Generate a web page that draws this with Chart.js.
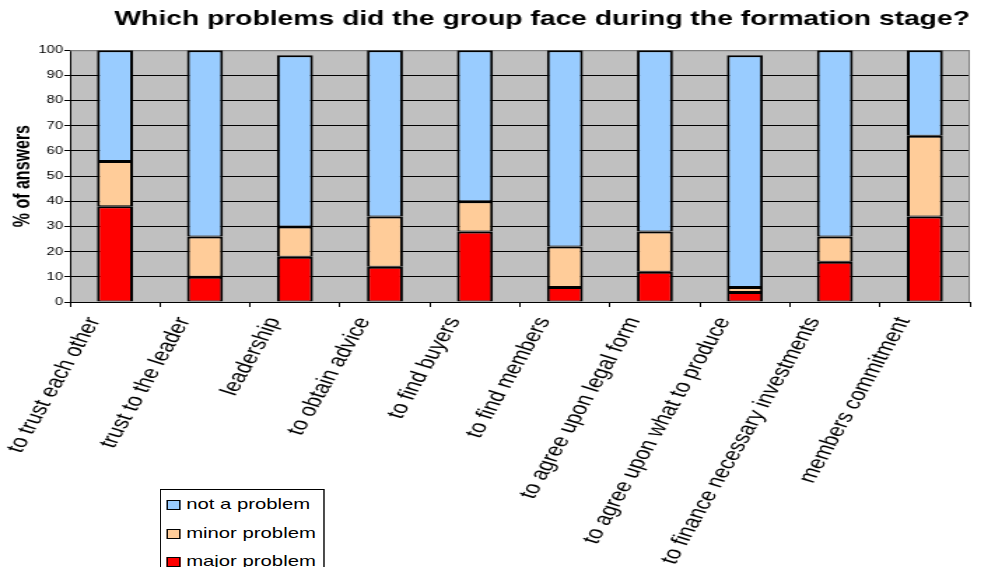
<!DOCTYPE html>
<html>
<head>
<meta charset="utf-8">
<title>Which problems did the group face during the formation stage?</title>
<script src="https://cdn.jsdelivr.net/npm/chart.js@4.4.1/dist/chart.umd.min.js"></script>
<style>
  html, body { margin: 0; padding: 0; background: #fff; overflow: hidden; }
  /* the original picture is stretched sideways, so the chart is drawn narrower and scaled */
  #wrap {
    position: relative;
    width: 701px;
    height: 567px;
    transform: scaleX(1.3995);
    transform-origin: 0 0;
  }
  #legend {
    position: absolute;
    left: 114px;
    top: 489px;
    width: 116px;
    border: 1px solid #000;
    background: #fff;
    font-family: "Liberation Sans", Arial, sans-serif;
    font-size: 14.5px;
    color: #000;
  }
  #legend div { height: 28.5px; line-height: 28.5px; white-space: nowrap; padding-left: 4px; }
  #legend span.box {
    display: inline-block;
    width: 8px; height: 8px;
    border: 1.5px solid #000;
    margin-right: 4px;
    vertical-align: -1px;
  }
</style>
</head>
<body>
<div id="wrap">
  <canvas id="chart"></canvas>
  <div id="legend"></div>
</div>
<script>
// Data (% of answers)
const categories = [
  'to trust each other',
  'trust to the leader',
  'leadership',
  'to obtain advice',
  'to find buyers',
  'to find members',
  'to agree upon legal form',
  'to agree upon what to produce',
  'to finance necessary investments',
  'members commitment'
];
const majorProblem = [38, 10, 18, 14, 28, 6, 12, 4, 16, 34];
const minorProblem = [18, 16, 12, 20, 12, 16, 16, 2, 10, 32];
const notAProblem  = [44, 74, 68, 66, 60, 78, 72, 92, 74, 34];
const yTicks = [0, 10, 20, 30, 40, 50, 60, 70, 80, 90, 100];

const FONT = '"Liberation Sans", Arial, sans-serif';

// grey plot background + grey top/right frame like the Excel original
const plotArea = {
  id: 'plotArea',
  beforeDraw(chart) {
    const {ctx, chartArea: a} = chart;
    ctx.save();
    ctx.fillStyle = '#C0C0C0';
    ctx.fillRect(a.left, a.top, a.right - a.left, a.bottom - a.top);
    ctx.restore();
  },
  beforeDatasetsDraw(chart) {
    const {ctx, chartArea: a} = chart;
    ctx.save();
    ctx.strokeStyle = '#808080';
    ctx.lineWidth = 1;
    ctx.beginPath();
    ctx.moveTo(a.left, a.top + 0.5);
    ctx.lineTo(a.right - 0.5, a.top + 0.5);
    ctx.lineTo(a.right - 0.5, a.bottom);
    ctx.stroke();
    ctx.restore();
  }
};

const barBorder = {top: 2, right: 2, bottom: 1, left: 2};

const ctx = document.getElementById('chart');
const chart = new Chart(ctx, {
  type: 'bar',
  data: {
    labels: categories,
    datasets: [{
      label: 'major problem',
      data: majorProblem,
      backgroundColor: '#FF0000'
    }, {
      label: 'minor problem',
      data: minorProblem,
      backgroundColor: '#FFCC99'
    }, {
      label: 'not a problem',
      data: notAProblem,
      backgroundColor: '#99CCFF'
    }]
  },
  options: {
    responsive: true,
    maintainAspectRatio: false,
    animation: false,
    datasets: {
      bar: {
        borderColor: '#000',
        borderWidth: barBorder,
        borderSkipped: false,
        categoryPercentage: 0.4,
        barPercentage: 1
      }
    },
    layout: { padding: { left: 0, right: 8, top: 0, bottom: 0 } },
    plugins: {
      legend: { display: false },
      tooltip: { enabled: false },
      title: {
        display: true,
        text: 'Which problems did the group face during the formation stage?',
        align: 'end',
        color: '#000',
        font: { family: FONT, size: 20.2, weight: 'bold' },
        padding: { top: 7, bottom: 19 }
      }
    },
    scales: {
      x: {
        stacked: true,
        afterFit(scale) { scale.height = 265; },
        border: { color: '#000', width: 1 },
        grid: {
          offset: true,
          drawOnChartArea: false,
          drawTicks: true,
          tickLength: 5,
          tickColor: '#000'
        },
        ticks: {
          autoSkip: false,
          minRotation: 67,
          maxRotation: 67,
          padding: 7,
          labelOffset: -15,
          color: '#000',
          font: { family: FONT, size: 18 }
        }
      },
      y: {
        stacked: true,
        min: 0,
        max: 100,
        afterFit(scale) { scale.width = 50; },
        afterBuildTicks(scale) { scale.ticks = yTicks.map(v => ({ value: v })); },
        border: { color: '#000', width: 1 },
        grid: {
          color: c => (c.tick && c.tick.value === 100) ? '#808080' : '#000',
          lineWidth: 1,
          tickLength: 4,
          tickColor: '#000'
        },
        ticks: {
          padding: 1,
          color: '#000',
          font: { family: FONT, size: 10.5 }
        },
        title: {
          display: true,
          text: '% of answers',
          color: '#000',
          font: { family: FONT, size: 16, weight: 'bold' },
          padding: { top: 7, bottom: 0 }
        }
      }
    }
  },
  plugins: [plotArea]
});

// Legend as real text, built from the datasets, top entry first
function buildLegend() {
  const el = document.getElementById('legend');
  let html = '';
  for (const ds of chart.data.datasets.slice().reverse()) {
    html += `<div><span class="box" style="background:${ds.backgroundColor}"></span>${ds.label}</div>`;
  }
  el.innerHTML = html;
}
buildLegend();
</script>
</body>
</html>
